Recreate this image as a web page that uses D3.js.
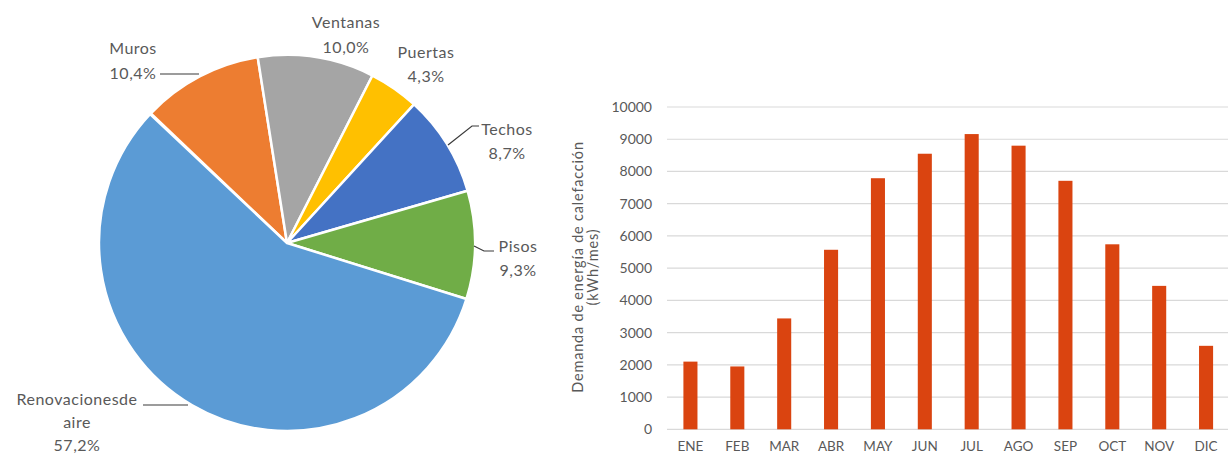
<!DOCTYPE html>
<html><head><meta charset="utf-8">
<script src="https://cdn.jsdelivr.net/npm/d3@7"></script>
<style>body{margin:0;background:#fff;overflow:hidden} text{font-family:Lato, "Open Sans", sans-serif;fill:#595959}</style>
</head><body><svg id="c" width="1228" height="454"></svg>
<script>
// ---- data ----
const pieCategories = ["Muros", "Ventanas", "Puertas", "Techos", "Pisos", "Renovaciones de aire"];
const pieLabelLines = [["Muros"], ["Ventanas"], ["Puertas"], ["Techos"], ["Pisos"], ["Renovacionesde", "aire"]];
const pieValues = [10.4, 10.0, 4.3, 8.7, 9.3, 57.2];
const pieColors = ["#ED7D31", "#A5A5A5", "#FFC000", "#4472C4", "#70AD47", "#5B9BD5"];

const months = ["ENE", "FEB", "MAR", "ABR", "MAY", "JUN", "JUL", "AGO", "SEP", "OCT", "NOV", "DIC"];
const demand = [2100, 1950, 3440, 5570, 7790, 8550, 9160, 8800, 7710, 5740, 4450, 2590];
const yTicks = [0, 1000, 2000, 3000, 4000, 5000, 6000, 7000, 8000, 9000, 10000];
const yTitleLines = ["Demanda de energía de calefacción", "(kWh/mes)"];

// ---- layout (not data) ----
const labelLayout = {
  "Muros": {x: 133, y: 47, gap: 25, leader: [[160, 74], [199, 74]]},
  "Ventanas": {x: 346, y: 21, gap: 25, leader: null},
  "Puertas": {x: 426, y: 51, gap: 24, leader: null},
  "Techos": {x: 507, y: 128, gap: 24, leader: [[448, 145], [472, 126], [479, 126]]},
  "Pisos": {x: 518, y: 245, gap: 24, leader: [[474, 246], [484, 251], [494, 251]]},
  "Renovaciones de aire": {x: 77, y: 398, gap: 23, leader: [[143, 405], [188, 405]]}
};

const svg = d3.select("#c");
const fmtPct = v => d3.format(".1f")(v).replace(".", ",") + "%";

// ---- pie ----
const cx = 287, cy = 243, R = 188;
const a0 = -46.4 * Math.PI / 180;
const pie = d3.pie().sort(null).value(d => d.v)
  .startAngle(a0).endAngle(a0 + 2 * Math.PI * d3.sum(pieValues) / 100);
const arc = d3.arc().innerRadius(0).outerRadius(R);
const pieData = pieCategories.map((c, i) => ({c, v: pieValues[i], color: pieColors[i], lines: pieLabelLines[i]}));
const gp = svg.append("g").attr("transform", `translate(${cx},${cy})`);
gp.selectAll("path").data(pie(pieData)).join("path")
  .attr("d", arc).attr("fill", d => d.data.color)
  .attr("stroke", "#fff").attr("stroke-width", 2.5).attr("stroke-linejoin", "round");

const lineGen = d3.line();
pieData.forEach(d => {
  const L = labelLayout[d.c];
  const lines = d.lines.concat([fmtPct(d.v)]);
  lines.forEach((t, k) => {
    svg.append("text").attr("x", L.x).attr("y", L.y + k * L.gap)
      .attr("text-anchor", "middle").attr("dominant-baseline", "central")
      .style("font-size", "16px").style("letter-spacing", "0.5px").text(t);
  });
  if (L.leader) {
    svg.append("path").attr("d", lineGen(L.leader)).attr("fill", "none")
      .attr("stroke", "#3a3a3a").attr("stroke-width", 1.2);
  }
});

// ---- bar chart ----
const x = d3.scaleBand().domain(months).range([667, 1229.5]).paddingInner(0.7).paddingOuter(0.35);
const y = d3.scaleLinear().domain([0, 10000]).range([429.3, 107]);
const gb = svg.append("g");
gb.selectAll("line.grid").data(yTicks).join("line").attr("class", "grid")
  .attr("x1", 667).attr("x2", 1229.5)
  .attr("y1", d => y(d)).attr("y2", d => y(d))
  .attr("stroke", "#D9D9D9").attr("stroke-width", 1.2);

const yAxis = d3.axisLeft(y).tickValues(yTicks).tickSize(0).tickPadding(0).tickFormat(d3.format("d"));
const ya = gb.append("g").attr("transform", "translate(652,0)").call(yAxis);
ya.select(".domain").remove();
ya.selectAll("text").style("font-size", "14px").style("font-family", "Lato, sans-serif").attr("fill", "#595959");

const xAxis = d3.axisBottom(x).tickSize(0).tickPadding(0);
const xa = gb.append("g").attr("transform", "translate(0,441)").call(xAxis);
xa.select(".domain").remove();
xa.selectAll("text").style("font-size", "13.5px").style("font-family", "Lato, sans-serif").attr("fill", "#595959");

gb.selectAll("rect.bar").data(months).join("rect").attr("class", "bar")
  .attr("x", d => x(d)).attr("width", x.bandwidth())
  .attr("y", (d, i) => y(demand[i])).attr("height", (d, i) => y(0) - y(demand[i]))
  .attr("fill", "#DA4410");

yTitleLines.forEach((t, k) => {
  svg.append("text").attr("transform", `translate(${577 + k * 15.5},267) rotate(-90)`)
    .attr("text-anchor", "middle").attr("dominant-baseline", "central")
    .style("font-size", "14.5px").style("letter-spacing", "0.8px").text(t);
});
</script></body></html>
